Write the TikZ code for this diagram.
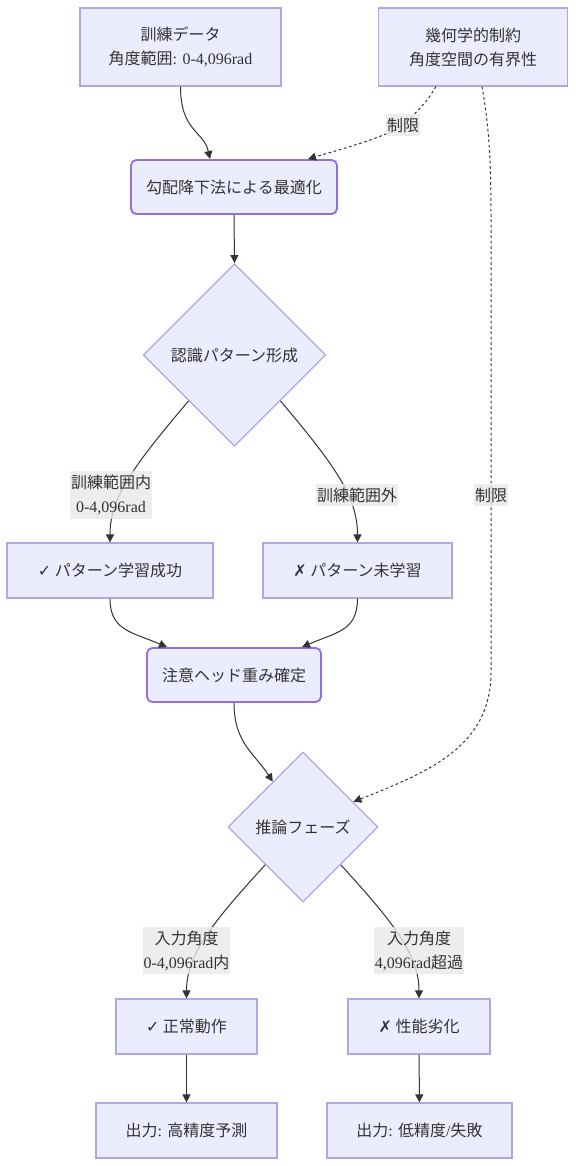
\documentclass[tikz,border=0pt]{standalone}
\usepackage{fontspec}
\setmainfont{Noto Sans CJK JP}
\newfontfamily\lat{Liberation Serif}
\newfontfamily\sym{DejaVu Sans}
\usetikzlibrary{shapes.geometric,arrows.meta,calc}
\definecolor{fond}{HTML}{ECECFF}
\definecolor{bord}{HTML}{9370DB}
\definecolor{bordclair}{HTML}{B3A4E4}
\definecolor{trait}{HTML}{333333}
\definecolor{etiq}{HTML}{E8E8E8}

\begin{document}
\begin{tikzpicture}  % ------ Extrapolation angulaire --------------
      [x=0.75pt,y=-0.75pt,font=\fontsize{12}{18}\selectfont,text=trait,
       boite/.style={draw=bordclair,fill=fond,line width=0.9pt,inner sep=0pt,align=center},
       arrondi/.style={boite,draw=bord,line width=1.4pt,rounded corners=4pt},
       losange/.style={boite,diamond,aspect=1,minimum size=#1},
       fleche/.style={draw=trait,line width=0.75pt,-{Triangle[length=6pt,width=6pt]}},
       pointille/.style={fleche,dash pattern=on 2pt off 2pt},
       etiquette/.style={fill=etiq,fill opacity=0.8,text opacity=1,inner xsep=0.5pt,inner ysep=3pt,align=center}]
    \useasboundingbox (0,0) rectangle (575,1166);

    % ------ apprentissage --------------
    \node[boite,minimum width=150.75pt,minimum height=58.5pt] (donnees) at (180.5,47)
        {訓練データ\\角度範囲{\lat: 0-4,096rad}};
    \node[boite,minimum width=141.75pt,minimum height=58.5pt] (contrainte) at (473,47)
        {幾何学的制約\\角度空間の有界性};
    \node[arrondi,minimum width=154.5pt,minimum height=40.5pt] (gradient) at (234,187)
        {勾配降下法による最適化};
    \node[losange=137pt] (motif) at (234.5,355) {認識パターン形成};
    \node[boite,minimum width=154.5pt,minimum height=41.25pt] (succes) at (110,570.5)
        {{\sym ✓} パターン学習成功};
    \node[boite,minimum width=141.75pt,minimum height=41.25pt] (echec) at (357.5,570.5)
        {{\sym ✗} パターン未学習};
    \node[arrondi,minimum width=130.5pt,minimum height=40.5pt] (poids) at (234,675)
        {注意ヘッド重み確定};

    % ------ inference --------------
    \node[losange=112.5pt] (inference) at (303,827) {推論フェーズ};
    \node[boite,minimum width=105.75pt,minimum height=41.25pt] (normal) at (186.5,1026.5)
        {{\sym ✓} 正常動作};
    \node[boite,minimum width=106.5pt,minimum height=41.25pt] (degrade) at (419,1026.5)
        {{\sym ✗} 性能劣化};
    \node[boite,minimum width=135.75pt,minimum height=41.25pt] (sortieH) at (186.5,1130.5)
        {出力{\lat: }高精度予測};
    \node[boite,minimum width=138.75pt,minimum height=41.25pt] (sortieB) at (419.5,1130.5)
        {出力{\lat: }低精度{\lat /}失敗};

    \coordinate (l1) at (403,125);
    \coordinate (c1) at (491,220);
    \coordinate (c2) at (491,672);

    % ------ liaisons --------------
    \draw[fleche] (donnees.south) .. controls +(0,45) and +(-6,-28) .. ([xshift=-18pt]gradient.north);
    \draw[pointille] ([xshift=-27.75pt]contrainte.south) .. controls +(-12,20) and +(12,-12) .. (l1)
        .. controls +(-20,13) and +(40,-12) .. ([xshift=55.5pt]gradient.north);
    \draw[pointille] ([xshift=6.75pt]contrainte.south) .. controls +(8,45) and +(0,-50) .. (c1) -- (c2)
        .. controls +(0,75) and +(75,-30) .. ($(inference.north)!.667!(inference.east)$);
    \draw[fleche] (gradient.south) -- (motif.north);
    \draw[fleche] (motif.south west) .. controls +(-55,65) and +(0,-45) .. (succes.north);
    \draw[fleche] (motif.south east) .. controls +(55,65) and +(0,-45) .. (echec.north);
    \draw[fleche] (succes.south) .. controls +(0,32) and +(-35,-15) .. ([xshift=-50.25pt]poids.north);
    \draw[fleche] (echec.south) .. controls +(0,32) and +(35,-15) .. ([xshift=51pt]poids.north);
    \draw[fleche] (poids.south) .. controls +(0,40) and +(-18,-28) .. ($(inference.west)!.6!(inference.north)$);
    \draw[fleche] (inference.south west) .. controls +(-50,55) and +(0,-45) .. (normal.north);
    \draw[fleche] (inference.south east) .. controls +(50,55) and +(0,-45) .. (degrade.north);
    \draw[fleche] (normal) -- (sortieH);
    \draw[fleche] (degrade) -- (sortieB);

    % ------ etiquettes --------------
    \node[etiquette] (lim1) at (l1) {制限};
    \node[etiquette] (lim2) at (491,495) {制限};
    \node[etiquette] (dans) at (111,495) {訓練範囲内\\{\lat 0-4,096rad}};
    \node[etiquette] (hors) at (357,495) {訓練範囲外};
    \node[etiquette] (entreeA) at (186.5,950.5) {入力角度\\{\lat 0-4,096rad}内};
    \node[etiquette] (entreeB) at (419,950.5) {入力角度\\{\lat 4,096rad}超過};
\end{tikzpicture}
\end{document}
